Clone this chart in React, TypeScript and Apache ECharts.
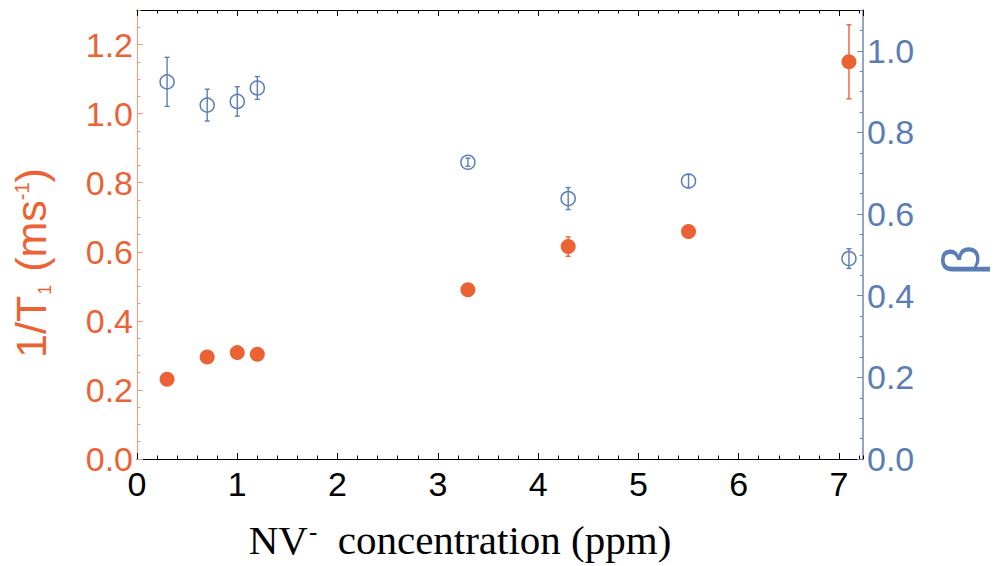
import React, { useEffect, useRef } from "react";
import * as echarts from "echarts";

const concentration = [0.3, 0.7, 1.0, 1.2, 3.3, 4.3, 5.5, 7.1];
const rate = [0.231, 0.295, 0.308, 0.303, 0.49, 0.615, 0.659, 1.15];
const rateErr = [0.008, 0.008, 0.008, 0.008, 0.008, 0.028, 0.008, 0.107];
const beta = [0.924, 0.867, 0.876, 0.909, 0.727, 0.638, 0.681, 0.491];
const betaErr = [0.06, 0.039, 0.036, 0.028, 0.01, 0.027, 0.016, 0.024];

const X_MIN = 0;
const X_MAX = 7.24;
const LEFT_MAX = 1.3;
const RIGHT_MAX = 1.1;

const ORANGE = "#EB6235";
const ORANGE_AXIS = "#F29B7A";
const BLUE = "#5B7DB5";
const BLUE_AXIS = "#6F88B3";
const SANS = "Liberation Sans";

function errRenderer(color: string) {
  return (params: any, api: any) => {
    const x = api.value(0);
    const y = api.value(1);
    const e = api.value(2);
    const t = api.coord([x, y + e]);
    const b = api.coord([x, y - e]);
    const hw = 2.5;
    const st = { stroke: color, lineWidth: 1.4 };
    return {
      type: "group",
      children: [
        { type: "line", shape: { x1: t[0], y1: t[1], x2: b[0], y2: b[1] }, style: st },
        { type: "line", shape: { x1: t[0] - hw, y1: t[1], x2: t[0] + hw, y2: t[1] }, style: st },
        { type: "line", shape: { x1: b[0] - hw, y1: b[1], x2: b[0] + hw, y2: b[1] }, style: st },
      ],
    };
  };
}

export default function App() {
  const ref = useRef<HTMLDivElement>(null);
  useEffect(() => {
    document.body.style.margin = "0";
    const chart = echarts.init(ref.current!, null, { renderer: "svg" });
    const fmt1 = (v: number) => (Math.abs(v * 5 - Math.round(v * 5)) < 1e-6 ? v.toFixed(1) : "");
    const fmtInt = (v: number) => (Math.abs(v - Math.round(v)) < 1e-6 ? String(Math.round(v)) : "");
    const xMajor = (pos: string, labels: boolean) => ({
      type: "value",
      position: pos,
      min: X_MIN,
      max: X_MAX,
      interval: 1,
      axisLine: { show: true, onZero: false, lineStyle: { color: "#000", width: 1 } },
      axisTick: { show: true, inside: true, length: 6, lineStyle: { color: "#000" } },
      axisLabel: {
        show: labels,
        fontSize: 34,
        fontFamily: SANS,
        color: "#000",
        margin: 8,
        formatter: fmtInt,
        showMaxLabel: false,
      },
      splitLine: { show: false },
    });
    const xMinor = (pos: string) => ({
      type: "value",
      position: pos,
      min: X_MIN,
      max: X_MAX,
      interval: 0.2,
      axisLine: { show: false, onZero: false },
      axisTick: { show: true, inside: true, length: 3.5, lineStyle: { color: "#000" } },
      axisLabel: { show: false },
      splitLine: { show: false },
    });
    const yMajor = (pos: string, max: number, lineColor: string, labelColor: string) => ({
      type: "value",
      position: pos,
      min: 0,
      max,
      interval: 0.2,
      axisLine: { show: true, onZero: false, lineStyle: { color: lineColor, width: pos === "right" ? 1.5 : 1 } },
      axisTick: { show: true, inside: true, length: 6, lineStyle: { color: lineColor } },
      axisLabel: {
        show: true,
        fontSize: 34,
        fontFamily: SANS,
        color: labelColor,
        margin: 4,
        formatter: fmt1,
        showMaxLabel: false,
      },
      splitLine: { show: false },
    });
    const yMinor = (pos: string, max: number, lineColor: string) => ({
      type: "value",
      position: pos,
      min: 0,
      max,
      interval: 0.05,
      axisLine: { show: false, onZero: false },
      axisTick: { show: true, inside: true, length: 3.5, lineStyle: { color: lineColor } },
      axisLabel: { show: false },
      splitLine: { show: false },
    });

    const rateData = concentration.map((x, i) => [x, rate[i]]);
    const rateErrData = concentration.map((x, i) => [x, rate[i], rateErr[i]]);
    const betaData = concentration.map((x, i) => [x, beta[i]]);
    const betaErrData = concentration.map((x, i) => [x, beta[i], betaErr[i]]);

    chart.setOption({
      animation: false,
      backgroundColor: "#fff",
      grid: { left: 137, right: 132, top: 10, bottom: 107, containLabel: false },
      xAxis: [xMajor("bottom", true), xMinor("bottom"), xMajor("top", false), xMinor("top")],
      yAxis: [
        yMajor("left", LEFT_MAX, ORANGE_AXIS, ORANGE),
        yMinor("left", LEFT_MAX, ORANGE_AXIS),
        yMajor("right", RIGHT_MAX, BLUE_AXIS, BLUE),
        yMinor("right", RIGHT_MAX, BLUE_AXIS),
      ],
      series: [
        {
          type: "custom",
          xAxisIndex: 0,
          yAxisIndex: 0,
          renderItem: errRenderer(ORANGE),
          data: rateErrData,
          encode: { x: 0, y: 1 },
          z: 2,
        },
        {
          type: "scatter",
          xAxisIndex: 0,
          yAxisIndex: 0,
          symbol: "circle",
          symbolSize: 15,
          itemStyle: { color: ORANGE, opacity: 1 },
          data: rateData,
          z: 3,
        },
        {
          type: "custom",
          xAxisIndex: 0,
          yAxisIndex: 2,
          renderItem: errRenderer(BLUE),
          data: betaErrData,
          encode: { x: 0, y: 1 },
          z: 2,
        },
        {
          type: "scatter",
          xAxisIndex: 0,
          yAxisIndex: 2,
          symbol: "circle",
          symbolSize: 14,
          itemStyle: { color: "rgba(0,0,0,0)", borderColor: BLUE, borderWidth: 1.5, opacity: 1 },
          data: betaData,
          z: 3,
        },
      ],
      graphic: [
        {
          type: "text",
          x: 31,
          y: 263,
          rotation: Math.PI / 2,
          style: {
            text: "{a|1/T}{s|1}{a| (ms}{p|-1}{a|)}",
            align: "center",
            verticalAlign: "middle",
            fill: ORANGE,
            rich: {
              a: { fontSize: 43, fontFamily: SANS, fill: ORANGE, lineHeight: 46, verticalAlign: "middle" },
              s: { fontSize: 18, fontFamily: SANS, fill: ORANGE, lineHeight: 18, verticalAlign: "bottom", padding: [0, 1, 0, 1] },
              p: { fontSize: 20, fontFamily: SANS, fill: ORANGE, lineHeight: 20, verticalAlign: "top", padding: [4, 0, 0, 0] },
            },
          },
        },
        {
          type: "text",
          x: 961,
          y: 260,
          rotation: Math.PI / 2,
          style: {
            text: "β",
            fontSize: 52,
            fontFamily: SANS,
            fill: BLUE,
            align: "center",
            verticalAlign: "middle",
          },
        },
        {
          type: "text",
          x: 460,
          y: 540,
          style: {
            text: "{a|NV}{p|-}{a|  concentration (ppm)}",
            align: "center",
            verticalAlign: "middle",
            fill: "#000",
            rich: {
              a: { fontSize: 41, fontFamily: "Liberation Serif", fill: "#000", lineHeight: 48, verticalAlign: "middle" },
              p: { fontSize: 25, fontFamily: "Liberation Serif", fill: "#000", lineHeight: 25, verticalAlign: "top", padding: [3, 0, 0, 1] },
            },
          },
        },
      ],
    });
    return () => chart.dispose();
  }, []);
  return <div ref={ref} style={{ width: 995, height: 566 }} />;
}
